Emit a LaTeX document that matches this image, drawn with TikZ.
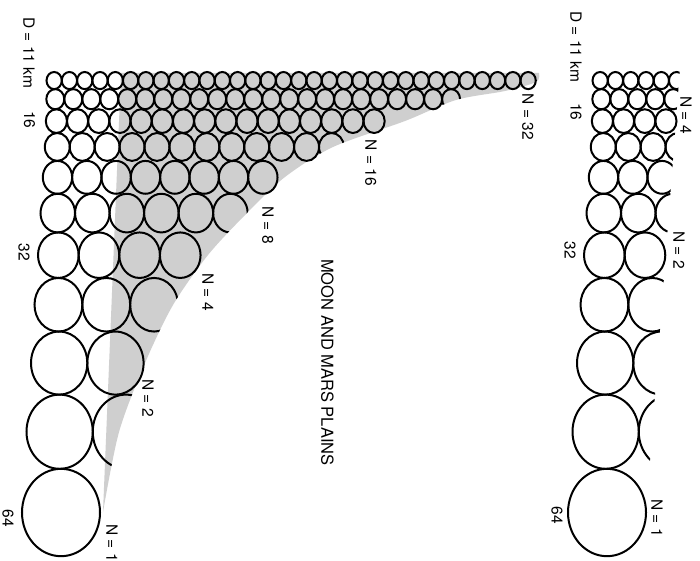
\documentclass[tikz,border=0pt]{standalone}
\usepackage{fontspec}
\setmainfont{TeX Gyre Heros}
\begin{document}
\begin{tikzpicture}[x=1pt,y=-1pt,
  crater/.style={line width=2pt, draw=black},
  shadefill/.style={fill=black!19},
  lab/.style={rotate=-90, inner sep=0pt, font=\fontsize{15.5}{15.5}\selectfont},
  titlelab/.style={rotate=-90, inner sep=0pt, font=\fontsize{16.5}{16.5}\selectfont}]
\useasboundingbox (0,0) rectangle (700,561);
\fill[white] (0,0) rectangle (700,561);

% shaded region of the left panel
\fill[shadefill] (121,73) -- plot[smooth] coordinates {(539,73) (536,82) (505,91) (456,100) (405,121) (333,147) (285,177) (247,213) (208,255) (173,305) (145,363) (119,432) (103,512)} -- cycle;

\foreach \yc/\d/\L/\Nl/\Nr in {
 80.56/15.29/46.5/32/5.657,
 99.20/17.99/46.3/22.627/4.757,
 121.13/21.18/45.8/16/4,
 146.95/24.93/44.8/11.314/3.364,
 177.34/29.34/42.8/8/2.828,
 213.11/34.53/40.5/5.657/2.378,
 255.20/40.64/38/4/2,
 304.75/47.84/34.5/2.828/1.682,
 363.07/56.30/31/2/1.414,
 431.71/66.27/26.5/1.414/1.189,
 512.50/78.00/22/1/1}
{
  \pgfmathtruncatemacro\nl{floor(\Nl+0.001)}
  \pgfmathtruncatemacro\nr{floor(\Nr+0.001)}
  \pgfmathsetmacro\ry{0.56*\d}
  \pgfmathsetmacro\rx{0.5*\d}
  \pgfmathsetmacro\fl{\Nl-\nl}
  \pgfmathsetmacro\fr{\Nr-\nr}
  \pgfmathsetmacro\Lr{\L+546}
  % left panel
  \foreach \i in {1,...,\nl}
    \draw[crater] ({\L+(\i-0.5)*\d},\yc) ellipse [x radius=\rx, y radius=\ry];
  \ifdim\fl pt>0.02pt
    \begin{scope}
      \clip (0,0) -- (539,0) -- plot[smooth] coordinates {(539,73) (536,82) (505,91) (456,100) (405,121) (333,147) (285,177) (247,213) (208,255) (173,305) (145,363) (119,432) (103,512)} -- (103,561) -- (0,561) -- cycle;
      \draw[crater] ({\L+(\nl+0.5)*\d},\yc) ellipse [x radius=\rx, y radius=\ry];
    \end{scope}
  \fi
  % right panel
  \foreach \i in {1,...,\nr}
    \draw[crater] ({\Lr+(\i-0.5)*\d},\yc) ellipse [x radius=\rx, y radius=\ry];
  \ifdim\fr pt>0.02pt
    \begin{scope}
      \clip (550,0) -- (685.2,0) -- (642.3,561) -- (550,561) -- cycle;
      \draw[crater] ({\Lr+(\nr+0.5)*\d},\yc) ellipse [x radius=\rx, y radius=\ry];
    \end{scope}
  \fi
}

% labels, left panel
\node[lab] (lD) at (29,53) {D = 11 km};
\node[lab] (l16) at (29.5,120) {16};
\node[lab] (l32) at (24,252) {32};
\node[lab] (l64) at (8,518) {64};
\node[lab] (n32) at (528,117) {N = 32};
\node[lab] (n16) at (371,163) {N = 16};
\node[lab] (n8) at (268,225) {N = 8};
\node[lab] (n4) at (208,292) {N = 4};
\node[lab] (n2) at (148,398) {N = 2};
\node[lab] (n1) at (112,543) {N = 1};
\node[titlelab] (title) at (327.5,362.5) {MOON AND MARS PLAINS};

% labels, right panel
\node[lab] (rD) at (576,47) {D = 11 km};
\node[lab] (r16) at (576,112) {16};
\node[lab] (r32) at (570,250) {32};
\node[lab] (r64) at (557,515) {64};
\node[lab] (rn4) at (686,115) {N = 4};
\node[lab] (rn2) at (679,250) {N = 2};
\node[lab] (rn1) at (657,518) {N = 1};
\end{tikzpicture}
\end{document}
